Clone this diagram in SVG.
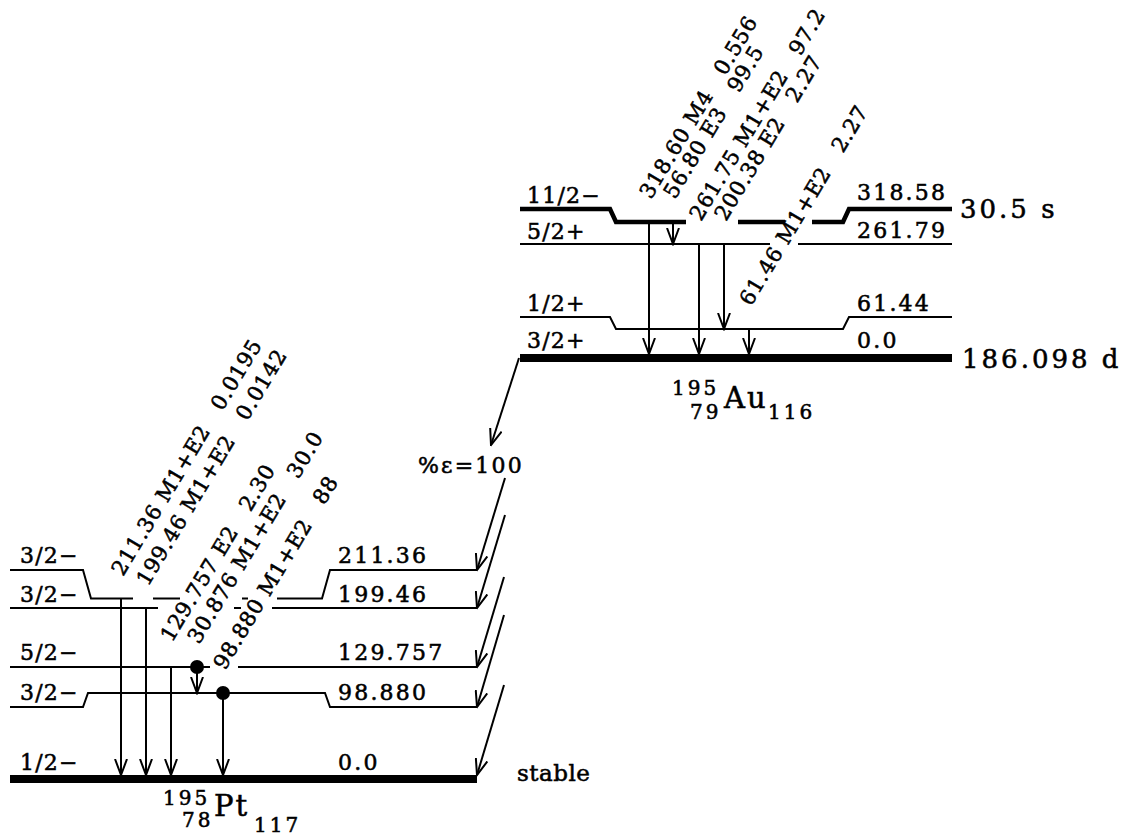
<svg xmlns="http://www.w3.org/2000/svg" width="1125" height="836" viewBox="0 0 1125 836">
<style>
.lv{fill:none;stroke:#000;stroke-width:2}
.lvm{fill:none;stroke:#000;stroke-width:4.5}
.lvg{fill:none;stroke:#000;stroke-width:8}
.tr{stroke:#000;stroke-width:2;fill:none;marker-end:url(#ah)}
text{font-family:"DejaVu Serif",serif;fill:#000;stroke:#000;stroke-width:0.55}
.sp{font-size:22px;letter-spacing:1.2px}
.en{font-size:22px;letter-spacing:2.2px}
.gl{font-size:21px;letter-spacing:0.8px}
.hl{font-size:26px;letter-spacing:3px}
.st{font-size:23px;letter-spacing:0.5px}
.nm{font-size:29px;letter-spacing:2px}
.ix{font-size:20px;letter-spacing:3px}
</style>
<defs>
<marker id="ah" markerUnits="userSpaceOnUse" markerWidth="18" markerHeight="14" viewBox="0 0 18 14" refX="16.5" refY="7" orient="auto">
<path d="M0.5,1 L16.5,7 L0.5,13" fill="none" stroke="#000" stroke-width="2"/>
</marker>
</defs>
<rect width="1125" height="836" fill="#fff"/>

<!-- 195Au levels -->
<g id="au-318">
<path class="lvm" d="M520,209 H610 L616,222 H686 M738,222 H785 M812,222 H843 L849,209 H952"/>
<text class="sp" x="527" y="203">11/2−</text>
<text class="en" x="857" y="200">318.58</text>
<text class="hl" x="960" y="218">30.5 s</text>
</g>
<g id="au-262">
<path class="lv" d="M520,244 H770 M798,244 H952"/>
<text class="sp" x="527" y="239">5/2+</text>
<text class="en" x="857" y="238">261.79</text>
</g>
<g id="au-61">
<path class="lv" d="M520,317 H610 L616,329 H843 L849,317 H952"/>
<text class="sp" x="527" y="311">1/2+</text>
<text class="en" x="857" y="311">61.44</text>
</g>
<g id="au-0">
<path class="lvg" d="M520,358 H952"/>
<text class="sp" x="527" y="348">3/2+</text>
<text class="en" x="857" y="348">0.0</text>
<text class="hl" x="962" y="368">186.098 d</text>
</g>
<g id="au-name">
<text class="ix" x="672" y="395">195</text>
<text class="ix" x="690" y="419">79</text>
<text class="nm" x="724" y="408">Au</text>
<text class="ix" x="768" y="419">116</text>
</g>

<!-- 195Pt levels -->
<g id="pt-211">
<path class="lv" d="M10,570 H83 L91,598.5 H133 M153,598.5 H180 M242,598.5 H248 M277,598.5 H322 L330,570 H477"/>
<text class="sp" x="20" y="563">3/2−</text>
<text class="en" x="338" y="563">211.36</text>
</g>
<g id="pt-199">
<path class="lv" d="M10,608 H158 M234,608 H241 M272,608 H477"/>
<text class="sp" x="20" y="602">3/2−</text>
<text class="en" x="338" y="602">199.46</text>
</g>
<g id="pt-130">
<path class="lv" d="M10,667 H210 M238,667 H477"/>
<text class="sp" x="20" y="660">5/2−</text>
<text class="en" x="338" y="660">129.757</text>
</g>
<g id="pt-99">
<path class="lv" d="M10,707 H83 L88,693 H325 L330,707 H477"/>
<text class="sp" x="20" y="700">3/2−</text>
<text class="en" x="338" y="700">98.880</text>
</g>
<g id="pt-0">
<path class="lvg" d="M10,779 H477"/>
<text class="sp" x="20" y="770">1/2−</text>
<text class="en" x="338" y="770">0.0</text>
<text class="st" x="517" y="781">stable</text>
</g>
<g id="pt-name">
<text class="ix" x="163" y="805">195</text>
<text class="ix" x="182" y="827">78</text>
<text class="nm" x="214" y="816">Pt</text>
<text class="ix" x="254" y="832">117</text>
</g>

<!-- connectors -->
<g id="connectors">
<path class="tr" d="M649,222 V354"/>
<path class="tr" d="M673,222 V244"/>
<path class="tr" d="M699,244 V354"/>
<path class="tr" d="M724,244 V329"/>
<path class="tr" d="M749,329 V354"/>
<path class="tr" d="M519,358 L491,445"/>
<path class="tr" d="M505,478 L477,570"/>
<path class="tr" d="M505,515 L477,608"/>
<path class="tr" d="M504,577 L477,667"/>
<path class="tr" d="M504,615 L477,707"/>
<path class="tr" d="M504,685 L477,775"/>
<path class="tr" d="M121,598.5 V775"/>
<path class="tr" d="M146,608 V775"/>
<path class="tr" d="M171,667 V775"/>
<path class="tr" d="M197,667 V693"/>
<path class="tr" d="M223,693 V775"/>
<circle cx="197" cy="667" r="7" fill="#000"/>
<circle cx="223" cy="693" r="7" fill="#000"/>
</g>

<!-- labels -->
<g id="labels">
<text class="en" x="418" y="473">%ε=100</text>
<text class="gl" transform="translate(651 200) rotate(-59)">318.60 M4<tspan dx="22">0.556</tspan></text>
<text class="gl" transform="translate(675 200) rotate(-59)">56.80 E3<tspan dx="22">99.5</tspan></text>
<text class="gl" transform="translate(701 222) rotate(-59)">261.75 M1+E2<tspan dx="22">97.2</tspan></text>
<text class="gl" transform="translate(726 222) rotate(-59)">200.38 E2<tspan dx="22">2.27</tspan></text>
<text class="gl" transform="translate(751 307) rotate(-59)">61.46 M1+E2<tspan dx="22">2.27</tspan></text>
<text class="gl" transform="translate(123 577) rotate(-59)">211.36 M1+E2<tspan dx="22">0.0195</tspan></text>
<text class="gl" transform="translate(148 587) rotate(-59)">199.46 M1+E2<tspan dx="22">0.0142</tspan></text>
<text class="gl" transform="translate(172 643) rotate(-59)">129.757 E2<tspan dx="22">2.30</tspan></text>
<text class="gl" transform="translate(199 645) rotate(-59)">30.876 M1+E2<tspan dx="22">30.0</tspan></text>
<text class="gl" transform="translate(225 671) rotate(-59)">98.880 M1+E2<tspan dx="22">88</tspan></text>
</g>
</svg>
